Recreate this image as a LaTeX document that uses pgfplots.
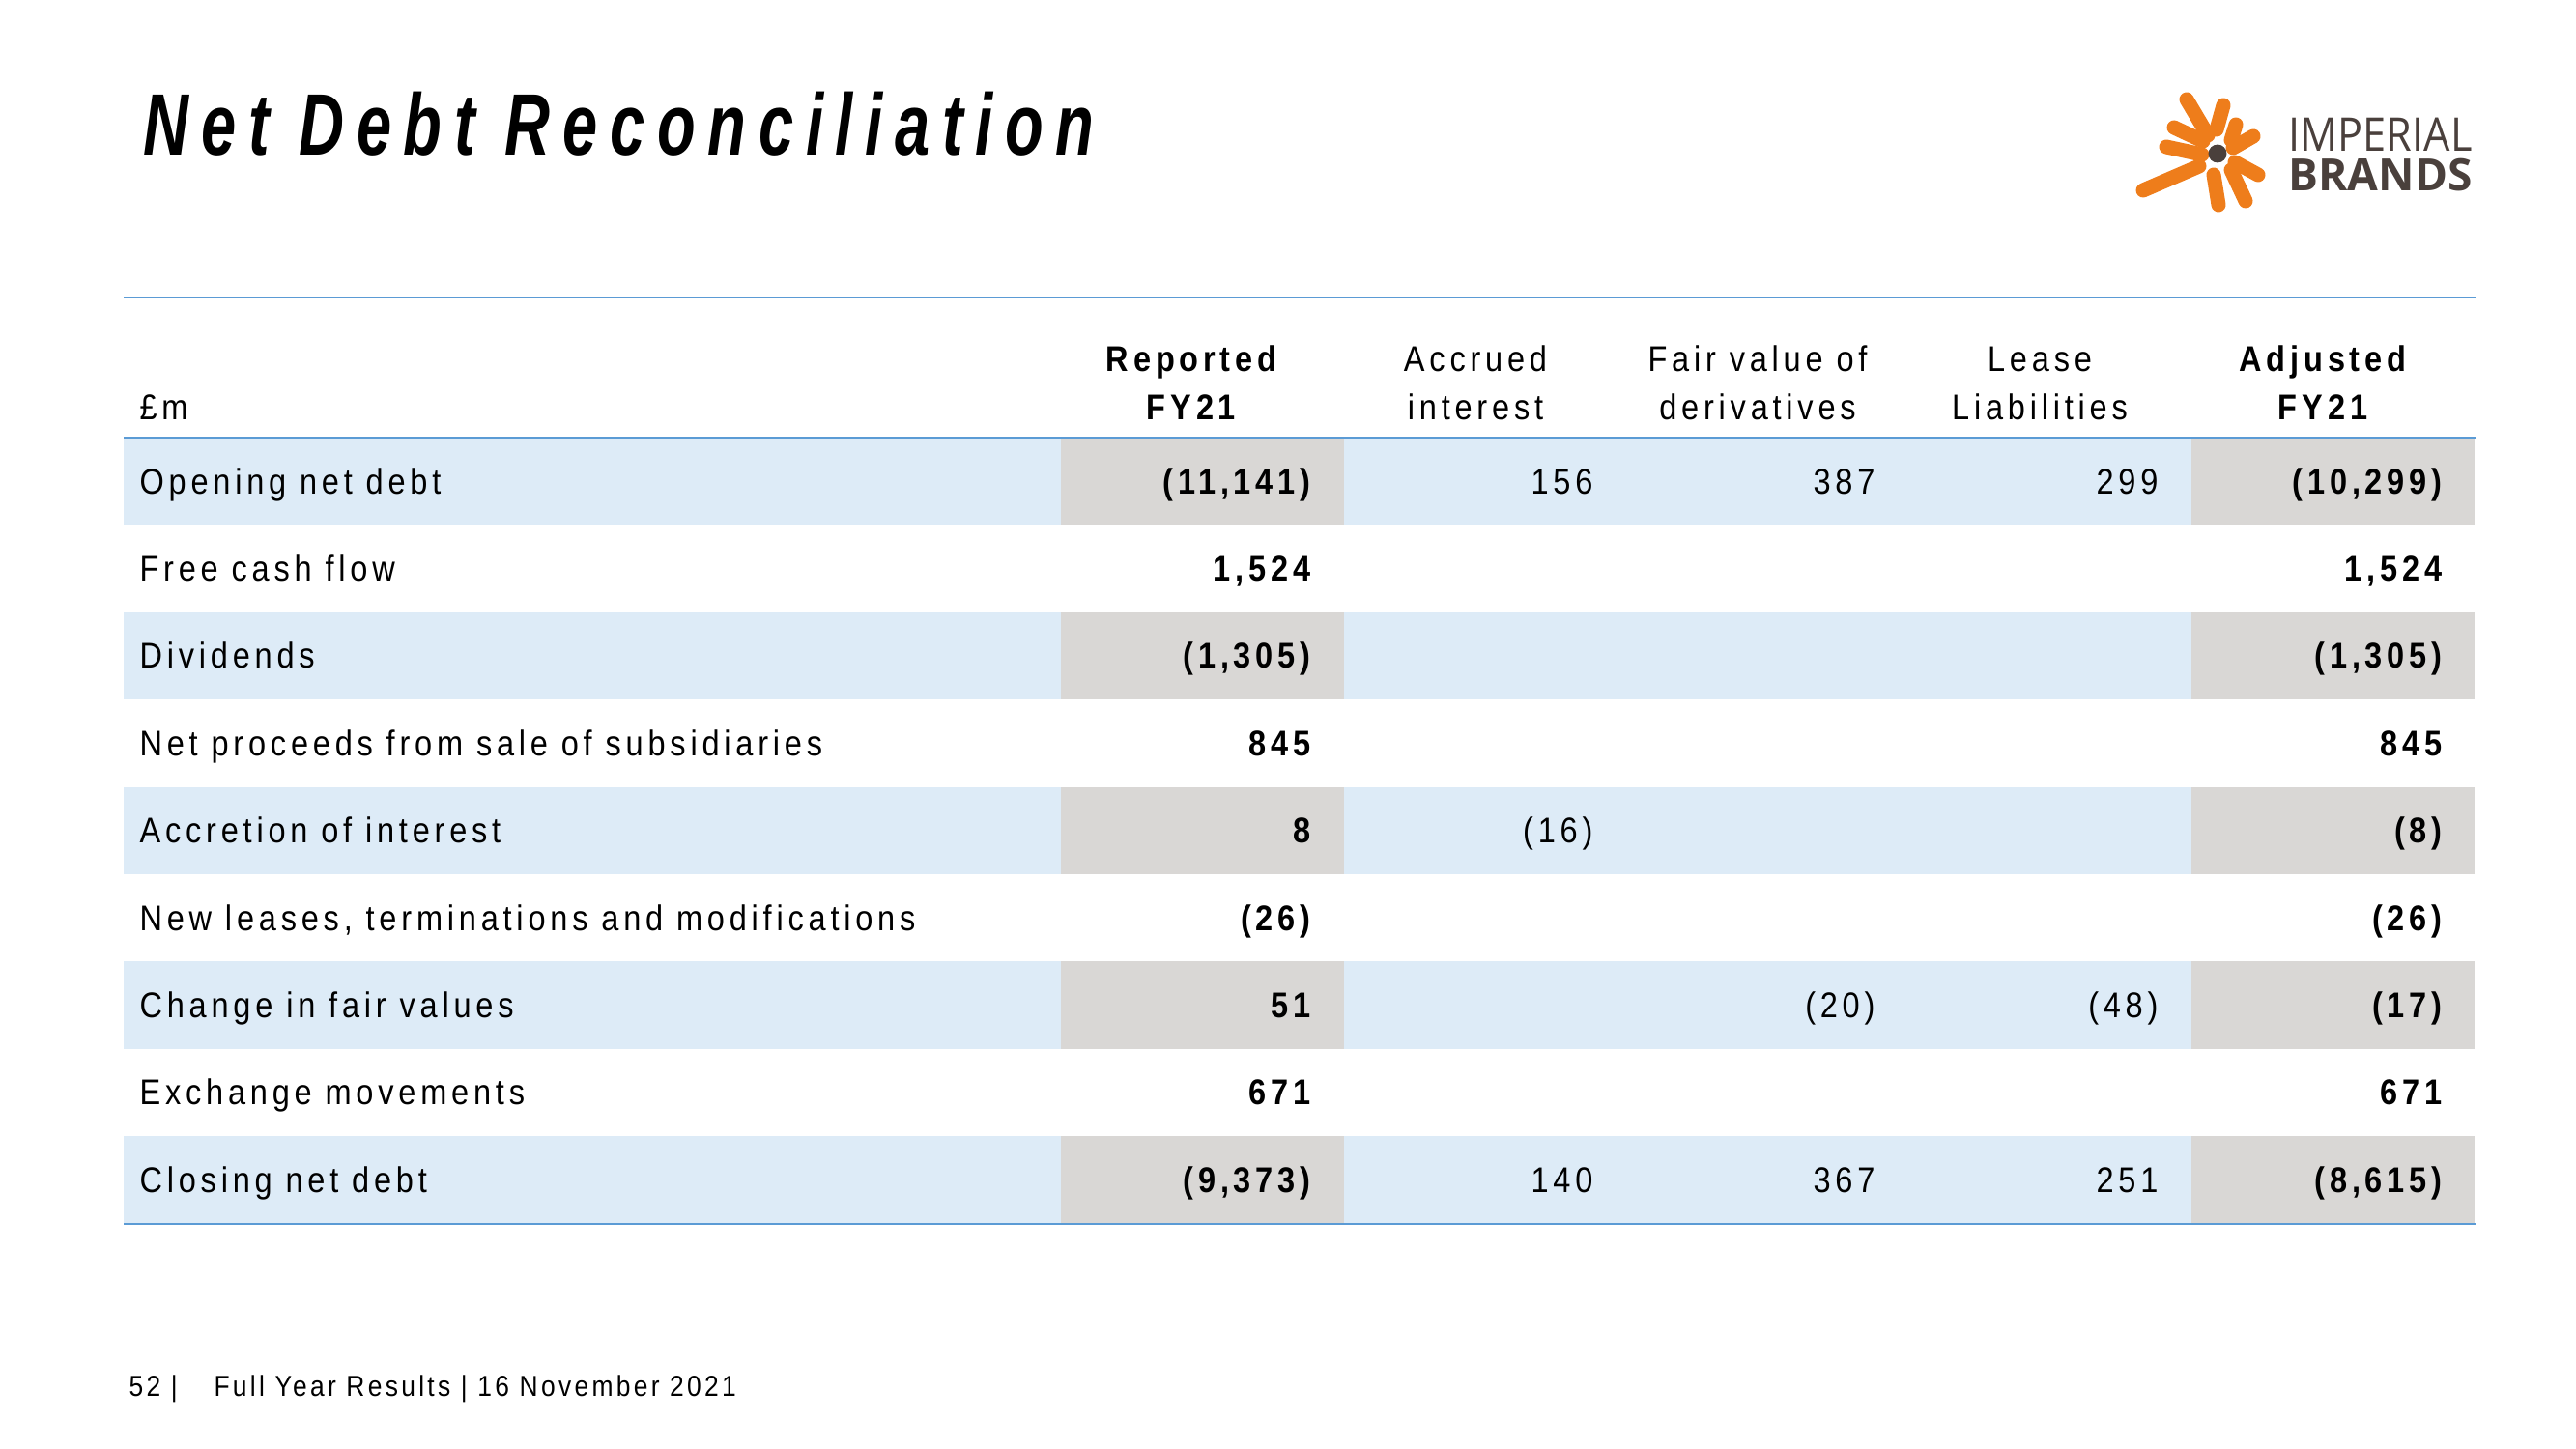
\documentclass[border=0pt]{standalone}
\usepackage{fontspec}
\usepackage{graphicx}
\usepackage{pgfplots}
\pgfplotsset{compat=1.18}
\usepackage{pgfplotstable}
\setmainfont{Liberation Sans}
\newfontfamily\bodyfont{Liberation Sans}[FakeStretch=0.88,LetterSpace=13]
\newfontfamily\footfont{Liberation Sans}[FakeStretch=0.88,LetterSpace=11]
\newfontfamily\titlefont{Liberation Sans}[FakeStretch=0.72,LetterSpace=14.1]
\newfontfamily\logofont{Open Sans}

\definecolor{rulecol}{HTML}{5B9BD5}
\definecolor{rowblue}{HTML}{DDEBF7}
\definecolor{cellgray}{HTML}{D9D7D5}
\definecolor{logoorange}{HTML}{EE7D1B}
\definecolor{logogray}{HTML}{4A403C}

% accounting format: negatives in parentheses, thousands separated by commas
\newcommand\acctfmt[1]{\edef\acctarg{#1}\expandafter\acctsplit\acctarg\relax}
\def\acctsplit#1#2\relax{\ifx-#1(\pgfmathprintnumber{#2})\else\pgfmathprintnumber{#1#2}\fi}

\pgfplotstableread[col sep=semicolon]{
r;label
0;Opening net debt
1;Free cash flow
2;Dividends
3;Net proceeds from sale of subsidiaries
4;Accretion of interest
5;New leases, terminations and modifications
6;Change in fair values
7;Exchange movements
8;Closing net debt
}\labeltable

\pgfplotstableread{
r v
0 -11141
1 1524
2 -1305
3 845
4 8
5 -26
6 51
7 671
8 -9373
}\reportedtable

\pgfplotstableread{
r v
0 156
4 -16
8 140
}\accruedtable

\pgfplotstableread{
r v
0 387
6 -20
8 367
}\fairtable

\pgfplotstableread{
r v
0 299
6 -48
8 251
}\leasetable

\pgfplotstableread{
r v
0 -10299
1 1524
2 -1305
3 845
4 -8
5 -26
6 -17
7 671
8 -8615
}\adjustedtable

\pgfplotsset{
  /pgf/number format/.cd, fixed, precision=0, 1000 sep={,}, assume math mode=true,
  /pgfplots/.cd,
  cell/.style={draw=none, no markers, point meta=explicit symbolic,
    nodes near coords={\acctfmt{\pgfplotspointmeta}},
    nodes near coords style={anchor=base east, inner sep=0pt, text=black,
      font=\bodyfont\fontsize{13.3}{16}\selectfont}},
  boldcell/.style={cell, nodes near coords style={font=\bodyfont\bfseries\fontsize{13.3}{16}\selectfont}},
}

\begin{document}
\begin{tikzpicture}
\useasboundingbox (0,0) rectangle (959.76pt,540pt);
\begin{axis}[at={(0,0)}, anchor=south west,
  width=959.76pt, height=540pt, scale only axis,
  xmin=0, xmax=2666, ymin=0, ymax=1500, y dir=reverse,
  hide axis, clip=false]

% row shading
\pgfplotsinvokeforeach{0,2,4,6,8}{
  \fill[rowblue] (axis cs:128,{453+90.4*#1}) rectangle (axis cs:2561,{453+90.4*(#1+1)});
  \fill[cellgray] (axis cs:1098,{453+90.4*#1}) rectangle (axis cs:1391,{453+90.4*(#1+1)});
  \fill[cellgray] (axis cs:2268,{453+90.4*#1}) rectangle (axis cs:2561,{453+90.4*(#1+1)});
}

% rules
\draw[rulecol, line width=0.9pt] (axis cs:128,308) -- (axis cs:2562,308);
\draw[rulecol, line width=0.9pt] (axis cs:128,453) -- (axis cs:2562,453);
\draw[rulecol, line width=0.9pt] (axis cs:128,1267) -- (axis cs:2562,1267);

% title
\node[anchor=base west, inner sep=0pt] at (axis cs:148,161)
  {\titlefont\bfseries\itshape\fontsize{32.5}{38}\selectfont Net Debt Reconciliation};

% header
\begin{scope}[every node/.style={inner sep=0pt, anchor=base, font=\bodyfont\fontsize{13.3}{16}\selectfont}]
\node[anchor=base west] at (axis cs:144,434) {£m};
\node at (axis cs:1233,384) {\bfseries Reported};
\node at (axis cs:1233,434) {\bfseries FY21};
\node at (axis cs:1527,384) {Accrued};
\node at (axis cs:1527,434) {interest};
\node at (axis cs:1819,384) {Fair value of};
\node at (axis cs:1819,434) {derivatives};
\node at (axis cs:2111,384) {Lease};
\node at (axis cs:2111,434) {Liabilities};
\node at (axis cs:2404,384) {\bfseries Adjusted};
\node at (axis cs:2404,434) {\bfseries FY21};
\end{scope}

% row labels
\addplot[draw=none, no markers, point meta=explicit symbolic,
  nodes near coords, nodes near coords style={anchor=base west, inner sep=0pt,
  font=\bodyfont\fontsize{13.3}{16}\selectfont}]
  table[x expr=144, y expr={453+90.4*\thisrow{r}+58}, meta=label] {\labeltable};

% values
\addplot[boldcell] table[x expr=1357, y expr={453+90.4*\thisrow{r}+58}, meta=v] {\reportedtable};
\addplot[cell] table[x expr=1649, y expr={453+90.4*\thisrow{r}+58}, meta=v] {\accruedtable};
\addplot[cell] table[x expr=1941, y expr={453+90.4*\thisrow{r}+58}, meta=v] {\fairtable};
\addplot[cell] table[x expr=2234, y expr={453+90.4*\thisrow{r}+58}, meta=v] {\leasetable};
\addplot[boldcell] table[x expr=2528, y expr={453+90.4*\thisrow{r}+58}, meta=v] {\adjustedtable};

% footer
\node[anchor=base west, inner sep=0pt, font=\footfont\fontsize{10.8}{13}\selectfont] at (axis cs:133,1445) {52 |};
\node[anchor=base west, inner sep=0pt, font=\footfont\fontsize{10.8}{13}\selectfont] at (axis cs:221,1445) {Full Year Results | 16 November 2021};

% logo
\begin{scope}[logoorange, line width=5.4pt, line cap=round]
\draw (axis cs:2263,103) -- (axis cs:2285,140);
\draw (axis cs:2301,109) -- (axis cs:2294,134);
\draw (axis cs:2314,129) -- (axis cs:2309,145);
\draw (axis cs:2332,141) -- (axis cs:2311,153);
\draw (axis cs:2337,181) -- (axis cs:2313,168);
\draw (axis cs:2324,208) -- (axis cs:2309,176);
\draw (axis cs:2296,212) -- (axis cs:2291,181);
\draw (axis cs:2218,197) -- (axis cs:2276,172);
\draw (axis cs:2242,152) -- (axis cs:2279,160);
\draw (axis cs:2250,132) -- (axis cs:2280,146);
\end{scope}
\fill[logogray] (axis cs:2295,159) circle[radius=3.4pt];
\node[anchor=base west, inner sep=0pt, text=logogray] at (axis cs:2368,157)
  {\resizebox{68.4pt}{12.4pt}{\logofont IMPERIAL}};
\node[anchor=base west, inner sep=0pt, text=logogray] at (axis cs:2368,198)
  {\resizebox{68.4pt}{12pt}{\logofont\bfseries BRANDS}};
\end{axis}
\end{tikzpicture}
\end{document}
